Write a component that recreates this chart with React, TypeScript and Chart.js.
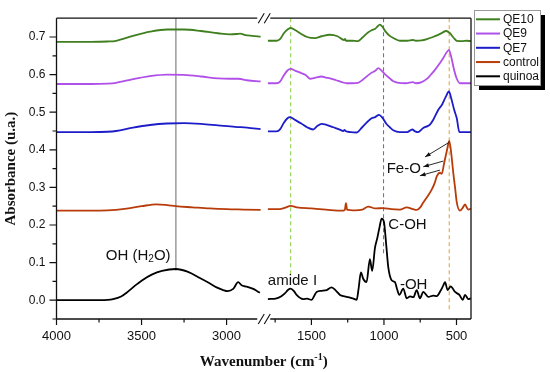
import { useEffect, useRef } from 'react';
import { Chart, registerables, LinearScale } from 'chart.js';

Chart.register(...registerables);

// ---------- data ----------
const SERIES_NAMES = ['QE10', 'QE9', 'QE7', 'control', 'quinoa'];
const SERIES_COLORS = ['#3f7f1f', '#b050e8', '#1c1cc8', '#b83c0a', '#000000'];

const QE10_LEFT = [[4000,0.687],[3800,0.687],[3700,0.688],[3650,0.690],[3550,0.703],[3450,0.714],[3350,0.720],[3250,0.720],[3150,0.716],[3050,0.710],[2980,0.707],[2940,0.708],[2920,0.709],[2890,0.705],[2850,0.703],[2800,0.701]];
const QE10_RIGHT = [[1800,0.690],[1740,0.690],[1715,0.695],[1690,0.710],[1665,0.720],[1643,0.724],[1610,0.718],[1570,0.708],[1530,0.700],[1476,0.697],[1430,0.702],[1372,0.706],[1320,0.702],[1275,0.692],[1268,0.695],[1262,0.690],[1220,0.690],[1180,0.689],[1150,0.698],[1110,0.712],[1085,0.718],[1060,0.722],[1045,0.728],[1028,0.733],[1010,0.727],[990,0.715],[960,0.703],[938,0.698],[890,0.690],[840,0.690],[800,0.692],[780,0.690],[740,0.691],[700,0.695],[662,0.700],[630,0.705],[600,0.711],[572,0.716],[545,0.710],[520,0.698],[498,0.690],[460,0.689],[430,0.690],[400,0.689]];

const QE9_LEFT = [[4000,0.575],[3800,0.575],[3700,0.576],[3650,0.578],[3550,0.588],[3450,0.596],[3350,0.600],[3250,0.599],[3150,0.595],[3050,0.590],[2980,0.589],[2930,0.589],[2880,0.585],[2800,0.582]];
const QE9_RIGHT = [[1800,0.577],[1740,0.577],[1715,0.582],[1690,0.598],[1665,0.611],[1643,0.615],[1610,0.610],[1570,0.604],[1540,0.599],[1510,0.589],[1470,0.592],[1430,0.595],[1400,0.592],[1372,0.590],[1330,0.585],[1290,0.580],[1257,0.577],[1220,0.577],[1180,0.578],[1150,0.585],[1110,0.598],[1080,0.606],[1060,0.610],[1039,0.617],[1020,0.612],[990,0.600],[960,0.590],[938,0.583],[900,0.578],[850,0.577],[800,0.580],[780,0.577],[740,0.580],[700,0.590],[683,0.597],[650,0.612],[614,0.631],[590,0.645],[570,0.658],[552,0.666],[535,0.645],[515,0.610],[498,0.589],[476,0.577],[440,0.577],[400,0.577]];

const QE7_LEFT = [[4000,0.447],[3800,0.447],[3700,0.448],[3650,0.450],[3550,0.459],[3450,0.466],[3350,0.470],[3250,0.471],[3150,0.469],[3050,0.465],[2950,0.461],[2880,0.459],[2800,0.455]];
const QE7_RIGHT = [[1800,0.449],[1740,0.449],[1715,0.455],[1690,0.472],[1665,0.484],[1648,0.487],[1610,0.479],[1570,0.470],[1530,0.460],[1488,0.454],[1460,0.463],[1430,0.469],[1400,0.467],[1350,0.460],[1300,0.453],[1281,0.450],[1272,0.453],[1265,0.450],[1230,0.447],[1188,0.446],[1150,0.460],[1110,0.476],[1085,0.484],[1060,0.487],[1034,0.493],[1010,0.485],[985,0.470],[960,0.460],[936,0.452],[890,0.447],[840,0.447],[805,0.454],[785,0.449],[766,0.447],[729,0.458],[700,0.463],[683,0.467],[660,0.480],[626,0.506],[600,0.520],[575,0.540],[552,0.555],[535,0.535],[515,0.505],[498,0.484],[480,0.447],[450,0.447],[400,0.447]];

const CONTROL_LEFT = [[4000,0.238],[3800,0.238],[3700,0.239],[3600,0.243],[3500,0.250],[3412,0.255],[3350,0.253],[3298,0.250],[3200,0.247],[3100,0.244],[3000,0.242],[2900,0.241],[2800,0.240]];
const CONTROL_RIGHT = [[1800,0.242],[1720,0.242],[1680,0.246],[1643,0.251],[1600,0.247],[1500,0.244],[1400,0.241],[1292,0.238],[1270,0.240],[1262,0.258],[1254,0.241],[1246,0.240],[1200,0.239],[1150,0.241],[1108,0.249],[1060,0.244],[1005,0.245],[950,0.242],[890,0.241],[843,0.247],[800,0.242],[774,0.240],[750,0.247],[729,0.260],[700,0.276],[671,0.294],[650,0.312],[636,0.329],[614,0.339],[602,0.336],[585,0.365],[565,0.400],[550,0.424],[536,0.390],[522,0.338],[510,0.300],[498,0.260],[476,0.238],[455,0.247],[441,0.255],[430,0.247],[418,0.241],[400,0.244]];

const QUINOA_LEFT = [[4000,0.0],[3800,0.0],[3700,0.001],[3667,0.003],[3620,0.010],[3588,0.020],[3540,0.038],[3500,0.052],[3440,0.068],[3380,0.078],[3298,0.083],[3230,0.076],[3157,0.059],[3100,0.045],[3059,0.034],[3020,0.027],[2994,0.024],[2961,0.030],[2932,0.048],[2912,0.040],[2890,0.037],[2873,0.035],[2843,0.030],[2820,0.024],[2804,0.020]];
const QUINOA_RIGHT = [[1800,0.003],[1740,0.005],[1710,0.010],[1683,0.018],[1660,0.028],[1643,0.031],[1620,0.024],[1602,0.014],[1557,0.003],[1530,0.004],[1499,0.001],[1480,0.012],[1464,0.022],[1430,0.025],[1395,0.027],[1361,0.034],[1330,0.025],[1303,0.014],[1270,0.010],[1246,0.008],[1210,0.004],[1188,0.001],[1175,0.030],[1159,0.074],[1143,0.057],[1120,0.048],[1097,0.109],[1081,0.078],[1062,0.139],[1046,0.165],[1030,0.195],[1016,0.217],[1000,0.208],[985,0.150],[970,0.087],[947,0.053],[924,0.048],[910,0.030],[894,0.014],[867,0.031],[843,0.005],[820,0.010],[797,0.008],[774,0.027],[752,0.005],[729,0.022],[695,0.009],[660,0.012],[636,0.011],[610,0.025],[590,0.040],[579,0.048],[561,0.027],[540,0.037],[510,0.022],[480,0.014],[457,0.001],[441,0.014],[418,0.003],[400,0.005]];

const SERIES_LEFT = [QE10_LEFT, QE9_LEFT, QE7_LEFT, CONTROL_LEFT, QUINOA_LEFT];
const SERIES_RIGHT = [QE10_RIGHT, QE9_RIGHT, QE7_RIGHT, CONTROL_RIGHT, QUINOA_RIGHT];

// axis break: left segment 4000-2800, right segment 1800-400
const BREAK_FROM = 2800;
const BREAK_TO = 1800;
const X_MIN = 400;
const X_MAX = 4000;
const X_TICKS = [4000, 3500, 3000, 1500, 1000, 500];
const X_MINOR = [3750, 3250, 1750, 1250, 750];
const Y_TICKS = [0, 0.1, 0.2, 0.3, 0.4, 0.5, 0.6, 0.7];
const Y_MINOR = [-0.05, 0.05, 0.15, 0.25, 0.35, 0.45, 0.55, 0.65];

// reference lines: wavenumber, top, bottom
const REF_X = [3298, 1643, 1003, 550];
const REF_TOP = [0.75, 0.75, 0.75, 0.75];
const REF_BOTTOM = [0.078, 0.057, 0.125, -0.03];
const REF_COLORS = ['#808080', '#8fd14f', '#8a55e0', '#e2a840'];
const REF_DASHED = [false, true, true, true];

// annotations (wavenumber, absorbance of text middle)
const ANNOT_TEXT = ['C-OH', 'amide I', '-OH', 'Fe-O'];
const ANNOT_X = [970, 1805, 890, 981];
const ANNOT_Y = [0.1995, 0.0526, 0.0396, 0.3505];
// arrows: from (x,y) to (x,y)
const ARROW_FROM = [[550, 0.42], [591, 0.370], [614, 0.346]];
const ARROW_TO = [[717, 0.381], [729, 0.355], [752, 0.331]];

const F1 = 0.4924;
const F2 = 0.51;

function waveToFrac(v: number) {
  if (v >= BREAK_FROM) return ((X_MAX - v) / (X_MAX - BREAK_FROM)) * F1;
  if (v <= BREAK_TO) return F2 + ((BREAK_TO - v) / (BREAK_TO - X_MIN)) * (1 - F2);
  return F1 + ((BREAK_FROM - v) / (BREAK_FROM - BREAK_TO)) * (F2 - F1);
}
function fracToWave(f: number) {
  if (f <= F1) return X_MAX - (f / F1) * (X_MAX - BREAK_FROM);
  if (f >= F2) return BREAK_TO - ((f - F2) / (1 - F2)) * (BREAK_TO - X_MIN);
  return BREAK_FROM - ((f - F1) / (F2 - F1)) * (BREAK_FROM - BREAK_TO);
}

class BrokenScale extends LinearScale {
  static id = 'broken';
  getPixelForValue(value: number) {
    return this.left + waveToFrac(value) * (this.right - this.left);
  }
  getValueForPixel(pixel: number) {
    return fracToWave((pixel - this.left) / (this.right - this.left));
  }
}
Chart.register(BrokenScale as any);

const SANS = '"Liberation Sans", Arial, sans-serif';
const SERIF = '"Liberation Serif", "Times New Roman", serif';

type Part = { t: string; size: number; dy: number };
function drawParts(ctx: CanvasRenderingContext2D, parts: Part[], x: number, y: number, family: string, weight: string, align: 'left' | 'center') {
  let total = 0;
  for (const p of parts) {
    ctx.font = `${weight} ${p.size}px ${family}`;
    total += ctx.measureText(p.t).width;
  }
  let cx = align === 'center' ? x - total / 2 : x;
  ctx.textAlign = 'left';
  for (const p of parts) {
    ctx.font = `${weight} ${p.size}px ${family}`;
    ctx.fillText(p.t, cx, y + p.dy);
    cx += ctx.measureText(p.t).width;
  }
}

const decor = {
  id: 'decor',
  afterDraw(chart: any) {
    const { ctx, chartArea, scales } = chart;
    const { left, right, top, bottom } = chartArea;
    const xs = scales.x;
    const ys = scales.y;
    ctx.save();
    ctx.strokeStyle = '#111';
    ctx.lineWidth = 1.3;
    const gapMid = (xs.getPixelForValue(BREAK_FROM) + xs.getPixelForValue(BREAK_TO)) / 2;
    ctx.beginPath();
    ctx.moveTo(left, top); ctx.lineTo(left, bottom);
    ctx.moveTo(right, top); ctx.lineTo(right, bottom);
    for (const yy of [top, bottom]) {
      ctx.moveTo(left, yy); ctx.lineTo(gapMid - 7, yy);
      ctx.moveTo(gapMid + 6, yy); ctx.lineTo(right, yy);
    }
    ctx.stroke();
    // break marks
    ctx.lineWidth = 1.1;
    ctx.beginPath();
    for (const yy of [top, bottom]) {
      for (const dx of [-3, 3]) {
        ctx.moveTo(gapMid + dx - 3, yy + 5);
        ctx.lineTo(gapMid + dx + 3, yy - 5);
      }
    }
    ctx.stroke();
    // ticks
    ctx.lineWidth = 1.2;
    ctx.beginPath();
    for (const v of Y_TICKS) { const p = ys.getPixelForValue(v); ctx.moveTo(left - 7, p); ctx.lineTo(left, p); }
    for (const v of Y_MINOR) { const p = ys.getPixelForValue(v); ctx.moveTo(left - 4, p); ctx.lineTo(left, p); }
    for (const v of X_TICKS) { const p = xs.getPixelForValue(v); ctx.moveTo(p, bottom); ctx.lineTo(p, bottom + 6); }
    for (const v of X_MINOR) { const p = xs.getPixelForValue(v); ctx.moveTo(p, bottom); ctx.lineTo(p, bottom + 3.5); }
    ctx.stroke();

    // annotations
    ctx.fillStyle = '#111';
    ctx.textBaseline = 'middle';
    ctx.font = `15px ${SANS}`;
    for (let i = 0; i < ANNOT_TEXT.length; i++) {
      ctx.textAlign = 'left';
      ctx.fillText(ANNOT_TEXT[i], xs.getPixelForValue(ANNOT_X[i]), ys.getPixelForValue(ANNOT_Y[i]));
    }
    drawParts(ctx, [
      { t: 'OH (H', size: 15, dy: 0 },
      { t: '2', size: 10, dy: 4 },
      { t: 'O)', size: 15, dy: 0 },
    ], xs.getPixelForValue(3710), ys.getPixelForValue(0.119), SANS, 'normal', 'left');

    // arrows
    ctx.strokeStyle = '#111';
    ctx.lineWidth = 0.9;
    for (let i = 0; i < ARROW_FROM.length; i++) {
      const x1 = xs.getPixelForValue(ARROW_FROM[i][0]);
      const y1 = ys.getPixelForValue(ARROW_FROM[i][1]);
      const x2 = xs.getPixelForValue(ARROW_TO[i][0]);
      const y2 = ys.getPixelForValue(ARROW_TO[i][1]);
      const a = Math.atan2(y2 - y1, x2 - x1);
      ctx.beginPath(); ctx.moveTo(x1, y1); ctx.lineTo(x2, y2); ctx.stroke();
      ctx.beginPath();
      ctx.moveTo(x2, y2);
      ctx.lineTo(x2 - 6 * Math.cos(a - 0.35), y2 - 6 * Math.sin(a - 0.35));
      ctx.lineTo(x2 - 6 * Math.cos(a + 0.35), y2 - 6 * Math.sin(a + 0.35));
      ctx.closePath(); ctx.fill();
    }

    // axis titles
    ctx.fillStyle = '#111';
    ctx.textBaseline = 'alphabetic';
    drawParts(ctx, [
      { t: 'Wavenumber (cm', size: 15, dy: 0 },
      { t: '-1', size: 10, dy: -6 },
      { t: ')', size: 15, dy: 0 },
    ], (left + right) / 2, 366, SERIF, 'bold', 'center');
    ctx.save();
    ctx.translate(15, (top + bottom) / 2);
    ctx.rotate(-Math.PI / 2);
    ctx.font = `bold 15px ${SERIF}`;
    ctx.textAlign = 'center';
    ctx.fillText('Absorbance (u.a.)', 0, 0);
    ctx.restore();

    // legend
    const bx = 474, by = 10, bw = 66, bh = 75;
    ctx.fillStyle = '#000';
    ctx.fillRect(bx + 5, by + 5, bw, bh);
    ctx.fillStyle = '#fff';
    ctx.fillRect(bx, by, bw, bh);
    ctx.strokeStyle = '#999';
    ctx.lineWidth = 1;
    ctx.strokeRect(bx + 0.5, by + 0.5, bw, bh);
    ctx.textBaseline = 'middle';
    ctx.textAlign = 'left';
    ctx.font = `12px ${SANS}`;
    for (let i = 0; i < SERIES_NAMES.length; i++) {
      const ry = 19.3 + i * 14.25;
      ctx.strokeStyle = SERIES_COLORS[i];
      ctx.lineWidth = 2;
      ctx.beginPath(); ctx.moveTo(476, ry); ctx.lineTo(500, ry); ctx.stroke();
      ctx.fillStyle = '#111';
      ctx.fillText(SERIES_NAMES[i], 503, ry + 0.5);
    }
    ctx.restore();
  },
};

export default function App() {
  const ref = useRef<HTMLCanvasElement | null>(null);
  useEffect(() => {
    if (!ref.current) return;
    const datasets: any[] = SERIES_NAMES.map((name, i) => ({
      label: name,
      data: [
        ...SERIES_LEFT[i].map(([x, y]) => ({ x, y })),
        { x: (BREAK_FROM + BREAK_TO) / 2, y: null },
        ...SERIES_RIGHT[i].map(([x, y]) => ({ x, y })),
      ],
      borderColor: SERIES_COLORS[i],
      borderWidth: 1.8,
      pointRadius: 0,
      cubicInterpolationMode: 'monotone',
      spanGaps: false,
    }));
    REF_X.forEach((xv, i) => {
      datasets.push({
        label: 'ref' + i,
        data: [{ x: xv, y: REF_TOP[i] }, { x: xv, y: REF_BOTTOM[i] }],
        borderColor: REF_COLORS[i],
        borderWidth: REF_DASHED[i] ? 1.1 : 1.2,
        borderDash: REF_DASHED[i] ? [4, 3] : [],
        pointRadius: 0,
        tension: 0,
      });
    });
    const chart = new Chart(ref.current, {
      type: 'line',
      data: { datasets },
      options: {
        responsive: false,
        animation: false,
        devicePixelRatio: 1,
        layout: { padding: { top: 11, right: 79, left: 0, bottom: 0 } },
        plugins: { legend: { display: false }, tooltip: { enabled: false } },
        scales: {
          x: {
            type: 'broken' as any,
            min: X_MIN,
            max: X_MAX,
            grid: { display: false, drawTicks: false },
            border: { display: false },
            afterBuildTicks: (s: any) => { s.ticks = X_TICKS.map((v) => ({ value: v })); },
            afterFit: (s: any) => { s.height = 53; },
            ticks: {
              autoSkip: false,
              maxRotation: 0,
              padding: 10,
              color: '#111',
              font: { family: SANS, size: 13 },
              callback: (v: any) => String(v),
            },
          },
          y: {
            type: 'linear',
            min: -0.05,
            max: 0.75,
            grid: { display: false, drawTicks: false },
            border: { display: false },
            afterBuildTicks: (s: any) => { s.ticks = Y_TICKS.map((v) => ({ value: v })); },
            afterFit: (s: any) => { s.width = 56.5; },
            ticks: {
              padding: 11,
              color: '#111',
              font: { family: SANS, size: 12 },
              callback: (v: any) => Number(v).toFixed(1),
            },
          },
        },
      } as any,
      plugins: [decor],
    });
    return () => chart.destroy();
  }, []);
  return (
    <div style={{ position: 'absolute', left: 0, top: 0, width: 550, height: 372, background: '#fff' }}>
      <canvas ref={ref} width={550} height={372} style={{ width: 550, height: 372, display: 'block' }} />
    </div>
  );
}
